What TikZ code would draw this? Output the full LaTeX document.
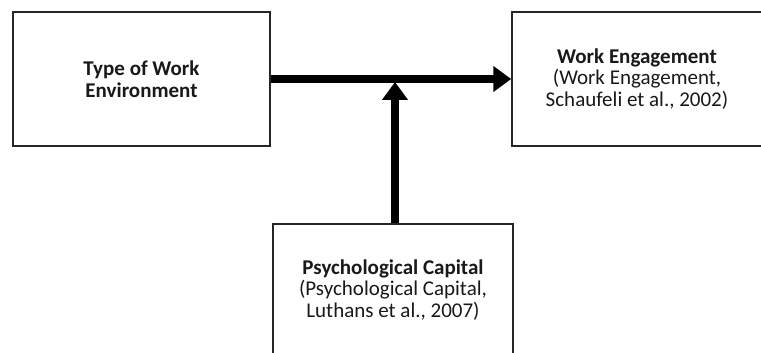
\documentclass[tikz,border=0pt]{standalone}
\usepackage{fontspec}
\setmainfont{Carlito}
\usetikzlibrary{arrows.meta}
\begin{document}
\begin{tikzpicture}[x=1pt,y=-1pt,
  box/.style={draw=black!85, line width=1.5pt, fill=white, align=center, inner sep=0pt,
    text=black!90, font=\fontsize{21}{21.7}\selectfont},
  thick arrow/.style={line width=7.5pt, -{Triangle[length=18pt,width=25pt]}}]
\clip (0,0) rectangle (761,353);
\useasboundingbox (0,0) rectangle (761,353);
\fill[white] (0,0) rectangle (761,353);
\node[box, minimum width=257pt, minimum height=134pt] (L) at (141.5,79) {\textbf{Type of Work}\\\textbf{Environment}};
\node[box, minimum width=250pt, minimum height=134pt] (R) at (637,79) {\textbf{Work Engagement}\\(Work Engagement,\\Schaufeli et al., 2002)};
\node[box, minimum width=240pt, minimum height=132pt] (B) at (393,290) {\textbf{Psychological Capital}\\(Psychological Capital,\\Luthans et al., 2007)};
\coordinate (m) at (395,82);
\draw[thick arrow] (L.east) -- (R.west);
\draw[thick arrow, line width=8.5pt] (m |- B.north) -- (m);
\end{tikzpicture}
\end{document}
